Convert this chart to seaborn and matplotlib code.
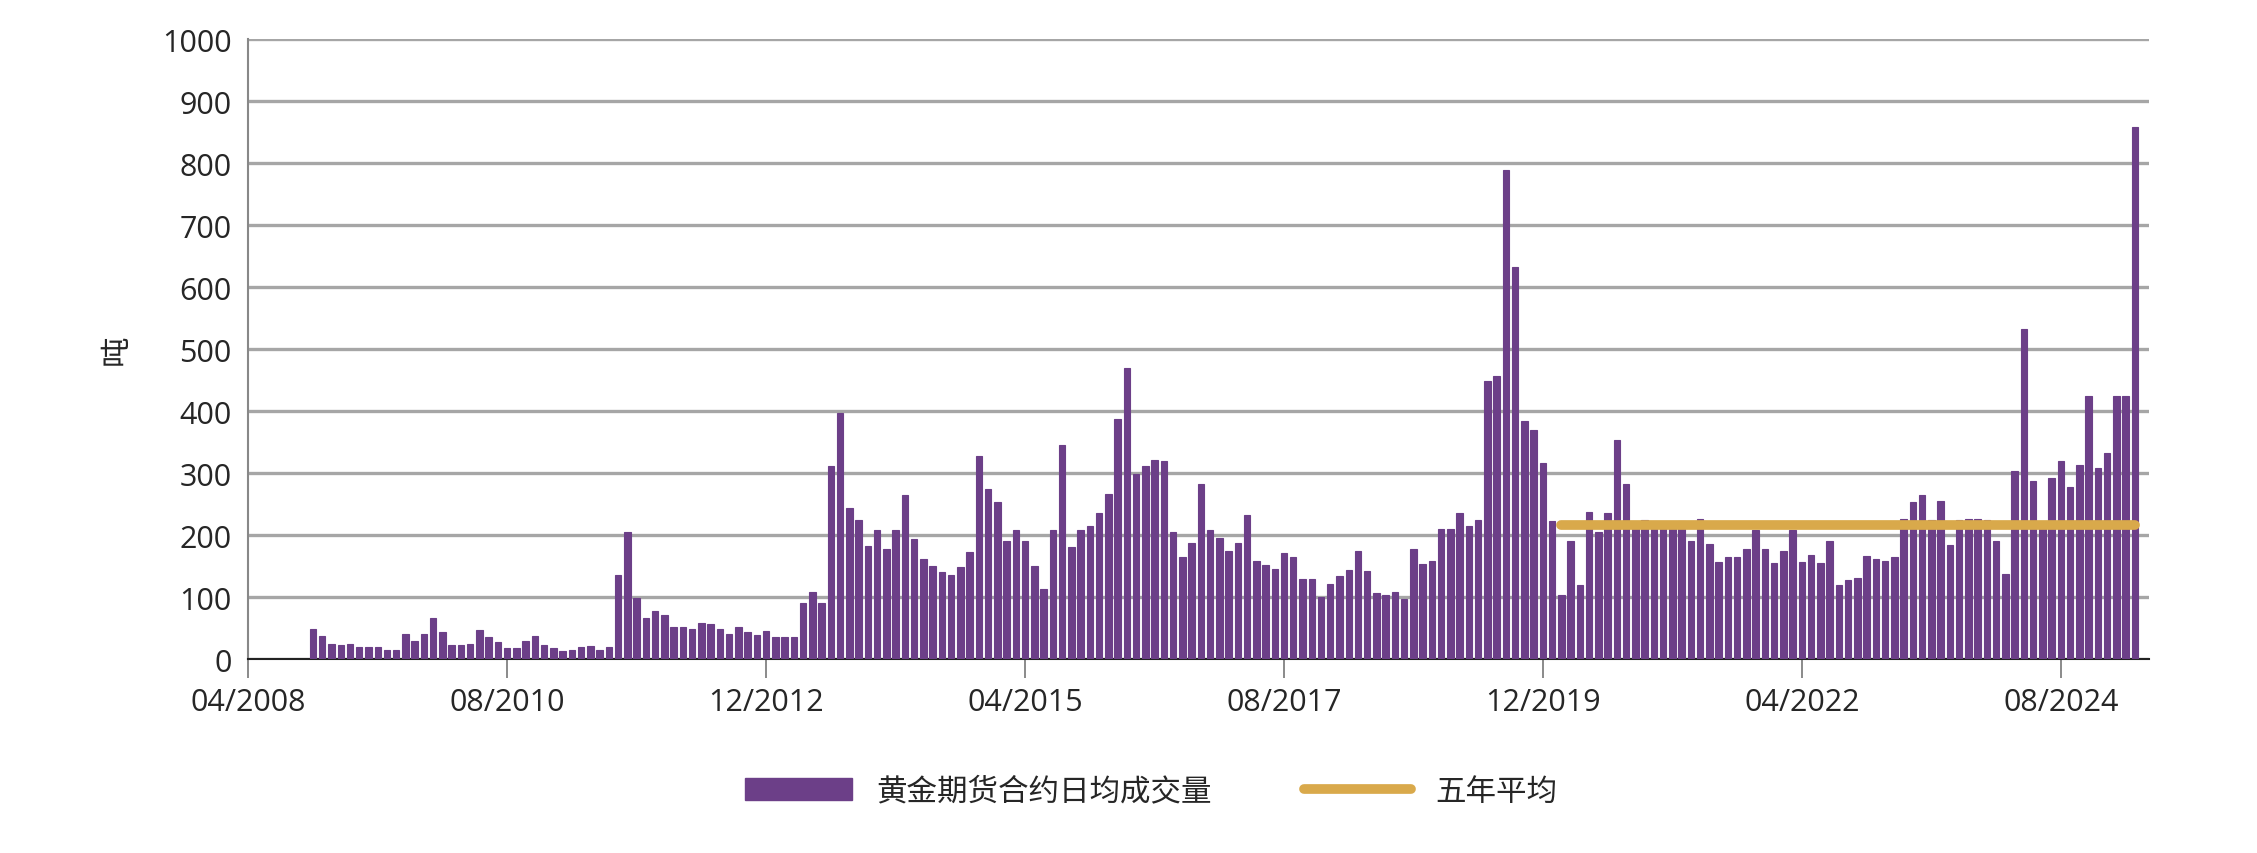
import matplotlib
matplotlib.use("Agg")
import matplotlib.pyplot as plt
import seaborn as sns
import numpy as np

# Monthly values Nov 2008 .. Apr 2025 (tonnes)
volume = [48,37,24,23,25,19,19,19,15,15,41,30,41,66,43,23,23,24,47,35,27,18,18,30,37,23,18,13,15,20,22,15,19,136,205,
          99,66,77,72,52,52,49,59,56,49,41,52,43,39,45,35,35,35,90,108,90,312,397,243,225,182,209,177,209,265,193,161,151,140,135,149,173,327,275,254,
          191,208,190,151,113,209,345,181,209,214,235,266,387,470,298,312,321,320,205,164,187,282,209,196,174,187,232,159,152,145,171,165,130,130,100,121,134,144,174,142,106,103,108,
          97,177,153,158,210,210,235,214,225,449,457,789,633,384,369,317,223,104,191,120,237,205,236,354,282,221,224,217,215,221,223,191,226,186,157,164,164,177,209,177,155,
          175,208,157,168,155,191,120,127,131,167,162,158,165,226,254,265,224,255,184,224,226,226,224,191,138,303,532,288,222,292,319,277,313,425,309,332,424,425,858]
five_year_avg = 217
avg_start_index = 135
first_month_offset = 7  # months after 04/2008
tick_labels = ["04/2008", "08/2010", "12/2012", "04/2015", "08/2017", "12/2019", "04/2022", "08/2024"]
tick_months = [0, 28, 56, 84, 112, 140, 168, 196]

sns.set_theme(style="white")
plt.rcParams['font.family'] = ['Open Sans', 'Noto Sans CJK SC', 'DejaVu Sans']

fig = plt.figure(figsize=(22.57, 8.54), dpi=100)
ax = fig.add_axes([0.110, 0.227, 0.842, 0.726])

xpos = np.arange(len(volume)) + first_month_offset
purple = "#6c3f88"
gold = "#d9a94b"
sns.barplot(x=xpos, y=volume, native_scale=True, width=0.7, color=purple,
            saturation=1, ax=ax, zorder=3, linewidth=0.8, edgecolor=purple)
ax.plot([xpos[avg_start_index], xpos[-1]], [five_year_avg, five_year_avg], color=gold,
        lw=7, solid_capstyle="round", zorder=4)

ax.set_xlim(0, 205.5)
ax.set_ylim(0, 1000)
ax.set_yticks(range(0, 1001, 100))
ax.yaxis.grid(True, color="#a6a6a6", lw=2.4, zorder=0)
ax.xaxis.grid(False)
ax.set_xticks(tick_months)
ax.set_xticklabels(tick_labels)
ax.tick_params(axis='x', length=14, width=1.2, color="#777777", labelsize=22, pad=6, direction='out')
ax.tick_params(axis='y', length=0, labelsize=22, pad=12)
ax.xaxis.set_ticks_position('bottom')
for s in ["top", "right"]:
    ax.spines[s].set_visible(False)
ax.spines["left"].set_color("#888888")
ax.spines["left"].set_linewidth(1.5)
ax.spines["bottom"].set_color("#222222")
ax.spines["bottom"].set_linewidth(1.5)
ax.set_xlabel("")
ax.set_ylabel("吨", fontsize=22, labelpad=22)
if ax.get_legend() is not None:
    ax.get_legend().remove()

from matplotlib.patches import Patch
from matplotlib.lines import Line2D
handles = [Patch(facecolor=purple, edgecolor=purple),
           Line2D([0], [0], color=gold, lw=7)]
labels = ["黄金期货合约日均成交量", "五年平均"]
fig.legend(handles, labels, loc="center", bbox_to_anchor=(0.51, 0.072), ncol=2,
           frameon=False, fontsize=22, handlelength=3.5, columnspacing=3)
fig.savefig("out.png", dpi=100)
